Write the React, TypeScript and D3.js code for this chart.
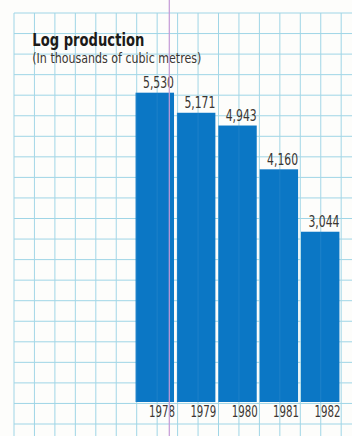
import React from "react";
import * as d3 from "d3";

const years = ["1978", "1979", "1980", "1981", "1982"];
const production = [5530, 5171, 4943, 4160, 3044];

const W = 352;
const H = 436;
const FONT = "'Liberation Sans Narrow', 'DejaVu Sans Condensed', 'Liberation Sans', sans-serif";

export default function App() {
  const x = d3.scaleBand<string>().domain(years).range([133.5, 341.5]).paddingInner(0.07).paddingOuter(0.05);
  const y = d3.scaleLinear().domain([0, 6000]).range([402, 66.4]);

  // graph paper behind the chart
  const vLines = d3.range(14, W, 20.45);
  const hLines = d3.range(13, H, 20.55);

  const fmt = d3.format(",");

  return (
    <svg
      width={W}
      height={H}
      style={{ position: "fixed", left: 0, top: 0, display: "block", background: "#fdfdfb" }}
    >
      <g stroke="#9fd5e6" strokeWidth={1}>
        {vLines.map((v) => (
          <line key={"v" + v} x1={v} x2={v} y1={13} y2={H} />
        ))}
        {hLines.map((h) => (
          <line key={"h" + h} x1={14} x2={W} y1={h} y2={h} />
        ))}
      </g>

      {years.map((yr, i) => (
        <rect
          key={yr}
          x={x(yr)}
          y={y(production[i])}
          width={x.bandwidth()}
          height={y(0) - y(production[i])}
          fill="#0b77c5"
        />
      ))}

      {/* faint paper lines showing through the ink */}
      <g stroke="#ffffff" strokeOpacity={0.08} strokeWidth={1}>
        {vLines.map((v) => (
          <line key={"vb" + v} x1={v} x2={v} y1={y(6000)} y2={y(0)} />
        ))}
      </g>

      {years.map((yr, i) => (
        <text
          key={"val" + yr}
          x={(x(yr) ?? 0) + x.bandwidth()}
          y={y(production[i]) - 4.5}
          textAnchor="end"
          fontFamily={FONT}
          fontSize={15.5}
          fill="#3b3632"
          textLength={31}
          lengthAdjust="spacingAndGlyphs"
        >
          {fmt(production[i])}
        </text>
      ))}

      {years.map((yr) => (
        <text
          key={"yr" + yr}
          x={(x(yr) ?? 0) + x.bandwidth() + 1}
          y={416.5}
          textAnchor="end"
          fontFamily={FONT}
          fontSize={15.5}
          fill="#3b3632"
          textLength={26}
          lengthAdjust="spacingAndGlyphs"
        >
          {yr}
        </text>
      ))}

      <text
        x={32.3}
        y={45.7}
        fontFamily={FONT}
        fontWeight="bold"
        fontSize={17.3}
        fill="#1c1a18"
        textLength={112}
        lengthAdjust="spacingAndGlyphs"
      >
        Log production
      </text>
      <text
        x={32.3}
        y={63.3}
        fontFamily={FONT}
        fontSize={13.5}
        fill="#3b3632"
        textLength={169}
        lengthAdjust="spacingAndGlyphs"
      >
        (In thousands of cubic metres)
      </text>

      {/* purple fold mark across the page */}
      <line x1={169.3} x2={169.3} y1={0} y2={H} stroke="#c49ad6" strokeWidth={1.2} />
    </svg>
  );
}
